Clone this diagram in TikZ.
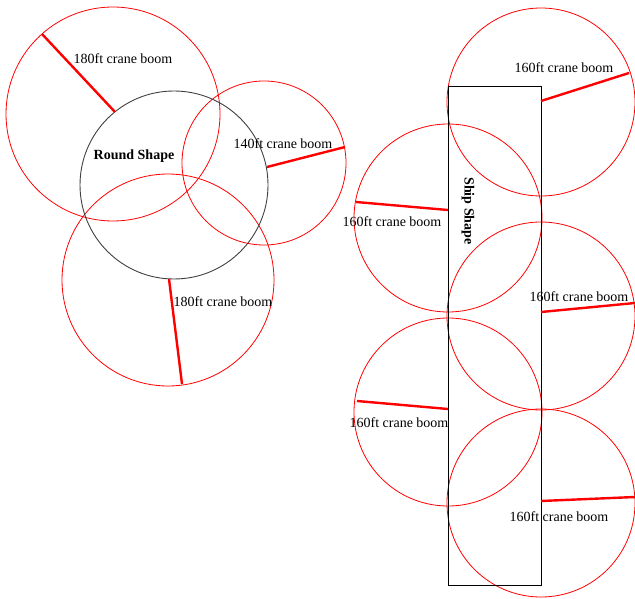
\documentclass[tikz,border=0pt]{standalone}
\usepackage{fontspec}
\setmainfont{Liberation Serif}
\tikzset{
  reach/.style={red, line width=0.8pt},
  boom/.style={red, line width=2.4pt},
  hull/.style={black, line width=0.9pt},
  boomlabel/.style={font=\fontsize{14}{16}\selectfont, inner sep=0pt},
  shapelabel/.style={font=\fontsize{14}{16}\selectfont\bfseries, inner sep=0pt}
}
\begin{document}
\begin{tikzpicture}[x=1pt,y=-1pt]
\useasboundingbox (0,0) rectangle (635,599);

% round shape with three cranes
\draw[reach] (113,114) circle (107);
\draw[reach] (264,163) circle (82);
\draw[reach] (168,280) circle (106);
\draw[hull, black!75] (174,185) circle (94);

\draw[boom] (115,112) -- (42,34);
\draw[boom] (267,167) -- (345,147);
\draw[boom] (169,279) -- (182,384);

\node[boomlabel] (roundA) at (123,59) {180ft crane boom};
\node[boomlabel] (roundB) at (283,144) {140ft crane boom};
\node[boomlabel] (roundC) at (223,302) {180ft crane boom};
\node[shapelabel] (round) at (134,156) {Round Shape};

% ship shape with six cranes
\draw[reach] (541,102) circle (94);
\draw[reach] (448,218) circle (94);
\draw[reach] (541,316) circle (94);
\draw[reach] (448,412) circle (94);
\draw[reach] (541,503) circle (94);
\draw[hull] (448,86) rectangle (541,585);

\draw[boom] (541,101) -- (629,73);
\draw[boom] (448,210) -- (356,202);
\draw[boom] (541,312) -- (635,303);
\draw[boom] (448,409) -- (357,401);
\draw[boom] (541,501) -- (635,497);

\node[boomlabel] (shipA) at (564,68) {160ft crane boom};
\node[boomlabel] (shipB) at (392,222) {160ft crane boom};
\node[boomlabel] (shipC) at (579,297) {160ft crane boom};
\node[boomlabel] (shipD) at (399,423) {160ft crane boom};
\node[boomlabel] (shipE) at (559,517) {160ft crane boom};
\node[shapelabel, rotate=-90] (ship) at (468,211) {Ship Shape};
\end{tikzpicture}
\end{document}
